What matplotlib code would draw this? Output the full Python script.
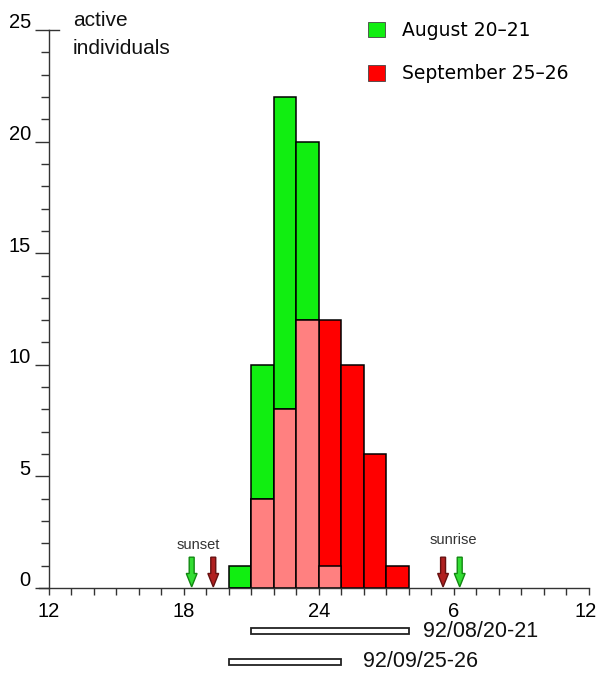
import numpy as np
import matplotlib.pyplot as plt
import matplotlib.transforms as mtransforms
from matplotlib.patches import Patch

# data (hour of night, 24 = midnight)
bin_left = [20, 21, 22, 23, 24, 25, 26, 27]
aug = [1, 10, 22, 20, 1, 0, 0, 0]
sep = [0, 4, 8, 12, 12, 10, 6, 1]

sunset_aug = 18.35
sunset_sep = 19.31
sunrise_sep = 29.53
sunrise_aug = 30.27

periods = ['92/08/20-21', '92/09/25-26']
period_start = [21, 20]
period_end = [28, 25]

xtick_pos = [12, 18, 24, 30, 36]
xtick_lab = ['12', '18', '24', '6', '12']

green = '#11ee11'
red = '#ff0000'
pink = '#ff8080'
dark = '#333333'

plt.rcParams['font.family'] = ['Liberation Sans', 'DejaVu Sans']

fig = plt.figure(figsize=(5.98, 6.74), dpi=100)
ax = fig.add_axes([39/598, 1-588/674, (589-39)/598, (588-30)/674])

aug = np.array(aug)
sep = np.array(sep)
both = np.minimum(aug, sep)

kw = dict(width=1, align='edge', edgecolor='black', linewidth=1.1)
ax.bar(bin_left, aug, color=green, **kw)
ax.bar(bin_left, sep, color=red, **kw)
ax.bar(np.array(bin_left)[both > 0], both[both > 0], color=pink, **kw)

# sunset / sunrise arrows
def arrow(x, face, edge):
    ax.arrow(x, 1.38, 0, -1.33, width=0.22, head_width=0.48, head_length=0.6,
             length_includes_head=True, facecolor=face, edgecolor=edge,
             linewidth=1.0, zorder=3, clip_on=False)

arrow(sunset_aug, '#33dd33', '#118811')
arrow(sunset_sep, '#b02020', '#661111')
arrow(sunrise_sep, '#b02020', '#661111')
arrow(sunrise_aug, '#33dd33', '#118811')
ax.text(18.65, 1.92, 'sunset', ha='center', va='center', fontsize=10.5, color=dark)
ax.text(29.97, 2.17, 'sunrise', ha='center', va='center', fontsize=10.5, color=dark)

# activity periods below the axis
ys = [-1.93, -3.3]
for lab, s, e, y in zip(periods, period_start, period_end, ys):
    b = ax.barh(y, e - s, left=s, height=0.27, color='white', edgecolor='#222222',
                linewidth=1.3)
    for p in b:
        p.set_clip_on(False)
    ax.text(e + 0.65 if y == ys[0] else e + 0.98, y, lab, ha='left', va='center',
            fontsize=15.5, color='#111111')

ax.set_xlim(11.56, 36.02)
ax.set_ylim(0, 25)

for s in ['top', 'right']:
    ax.spines[s].set_visible(False)
ax.spines['left'].set_position(('data', 12))
ax.spines['left'].set_color(dark)
ax.spines['bottom'].set_color(dark)
ax.spines['left'].set_linewidth(1.0)
ax.spines['bottom'].set_linewidth(1.0)

ax.set_xticks(xtick_pos)
ax.set_xticklabels(xtick_lab)
ax.set_xticks(np.arange(12, 37, 1), minor=True)
ax.set_yticks(np.arange(0, 26, 5))
ax.set_yticks(np.arange(0, 26, 1), minor=True)
ax.tick_params(axis='x', which='both', direction='out', length=5, width=1.0,
               color=dark, labelsize=14.5, pad=5)
ax.tick_params(axis='y', which='major', direction='out', length=10, width=1.0,
               color=dark, labelsize=14.5, pad=3)
ax.tick_params(axis='y', which='minor', direction='out', length=6, width=1.0,
               color=dark)
ax.plot([12, 12.45], [25, 25], color=dark, linewidth=1.0, clip_on=False)

offset = mtransforms.ScaledTranslation(0, 9/100, fig.dpi_scale_trans)
for lab in ax.get_yticklabels():
    lab.set_transform(lab.get_transform() + offset)
last = ax.get_xticklabels()[-1]
last.set_transform(last.get_transform() +
                   mtransforms.ScaledTranslation(-3/100, 0, fig.dpi_scale_trans))

fig.text(73/598, 1-20/674, 'active', fontsize=15, va='center', ha='left', color='#111111')
fig.text(73/598, 1-49/674, 'individuals', fontsize=15, va='center', ha='left', color='#111111')

handles = [Patch(facecolor=green, edgecolor='#444444', linewidth=0.6),
           Patch(facecolor=red, edgecolor='#444444', linewidth=0.6)]
leg = fig.legend(handles, ['August 20\u201321', 'September 25\u201326'],
                 loc='upper left', bbox_to_anchor=(368/598, 1-21/674), frameon=False,
                 handlelength=0.9, handleheight=0.9, handletextpad=0.9,
                 labelspacing=1.3, borderpad=0, borderaxespad=0,
                 prop={'family': 'DejaVu Sans', 'size': 13.5})

fig.savefig('out.png', dpi=100)
